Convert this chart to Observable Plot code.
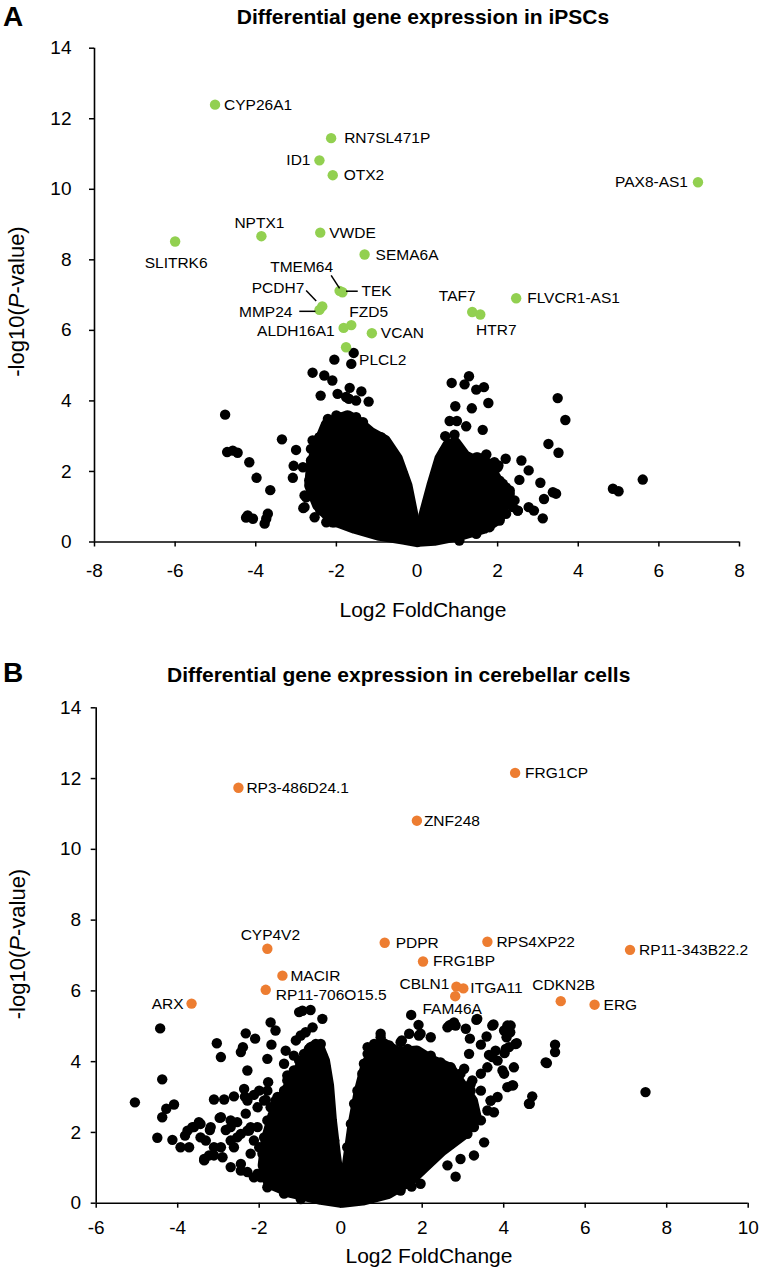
<!DOCTYPE html>
<html><head><meta charset="utf-8">
<script src="https://cdn.jsdelivr.net/npm/d3@7"></script>
<script src="https://cdn.jsdelivr.net/npm/@observablehq/plot@0.6"></script>
<style>
body{margin:0;background:#fff;}
#root{width:760px;}
svg{display:block;}
</style></head><body><div id="root"></div>
<script>
// ---------- Panel A data (iPSCs) ----------
const sigNamesA = ["CYP26A1","RN7SL471P","ID1","OTX2","NPTX1","VWDE","SLITRK6","SEMA6A","TMEM64","TEK","PCDH7","MMP24","FZD5","ALDH16A1","VCAN","PLCL2","TAF7","HTR7","FLVCR1-AS1","PAX8-AS1"];
const sigLfcA   = [-5.01,-2.13,-2.42,-2.09,-3.86,-2.40,-6.00,-1.30,-1.92,-1.85,-2.35,-2.42,-1.63,-1.82,-1.12,-1.76,1.37,1.57,2.46,6.97];
const sigLogpA  = [12.40,11.45,10.82,10.40,8.67,8.77,8.52,8.15,7.12,7.08,6.68,6.58,6.15,6.07,5.92,5.52,6.52,6.45,6.91,10.20];

const bgA = [
[-4.76,3.61],[-3.35,2.91],[-4.71,2.55],[-4.57,2.59],[-4.45,2.53],[-4.16,2.26],[-3.98,1.82],[-3.64,1.47],[-4.20,0.75],[-4.07,0.66],[-4.24,0.69],[-3.78,0.52],[-3.70,0.80],[-3.74,0.66],[-3.00,2.61],[-3.08,1.82],[-3.06,2.16],[-2.83,2.12],[-2.79,1.32],[-2.82,0.96],[-2.59,4.80],[-2.39,4.15],[-2.30,4.72],[-2.10,4.58],[-2.05,5.17],[-1.63,5.05],[-1.57,5.36],[-1.97,4.20],[-1.69,4.06],[-1.67,4.37],[-1.38,4.27],[-1.51,4.01],[-1.20,3.98],[-1.92,3.54],[-1.92,2.78],[-2.21,3.37],[-2.17,3.11],[-1.51,3.54],[-2.59,2.88],[-2.42,2.97],[-2.63,2.64],[-2.54,2.40],[-1.76,4.11],[-2.55,1.55],[-2.60,1.95],[-2.45,1.20],[-2.40,0.90],[-2.20,0.75],[-2.10,0.56],
[-2.67,1.75],[-2.75,1.27],[-2.79,0.99],[-2.54,0.70],[-2.25,0.56],[-2.05,0.56],[-2.63,2.31],[-2.54,2.69],[-2.42,2.97],[-2.25,3.35],[-2.21,3.49],[-2.00,3.59],[-1.92,3.30],[-1.84,3.07],[-1.76,2.97],[-1.51,3.25],[-1.34,3.40],[-1.30,3.11],[-1.18,2.97],[-1.05,2.88],[-0.89,2.97],[-0.81,2.78],[-0.64,2.55],[-0.48,2.31],[-0.35,1.93],[-0.27,1.55],
[0.86,4.51],[1.29,4.70],[1.18,4.47],[1.47,4.32],[1.66,4.39],[3.49,4.08],[3.68,3.46],[0.95,3.85],[1.36,3.79],[1.77,3.94],[0.81,3.43],[0.99,3.43],[1.22,3.28],[1.63,3.18],[3.26,2.78],[3.51,2.53],[0.70,3.00],[0.93,3.04],[0.95,2.76],[1.51,2.40],[1.72,2.48],[1.92,2.26],[2.20,2.36],[2.02,2.17],[2.59,2.31],[2.77,2.03],[2.54,1.76],[3.06,1.68],[3.45,1.37],[3.37,1.41],[3.15,1.22],[2.90,0.89],[2.77,0.99],[2.50,0.89],[3.12,0.67],[4.86,1.51],[5.00,1.44],[5.60,1.77],[1.96,1.84],[2.13,1.65],[2.30,1.46],[2.42,1.18],[2.13,1.37],
[0.68,2.59],[0.64,2.40],[0.56,2.22],[0.48,1.93],[0.39,1.55],[1.05,2.59],[1.26,2.40],[1.47,2.40],[1.67,2.40],[1.80,2.22],[2.00,2.12],[1.92,1.93],[2.05,1.74],[2.21,1.55],[2.30,1.37],[2.30,1.18],[2.38,0.99],[2.50,0.89],[2.21,0.80],[2.05,0.61],[1.80,0.42],[1.47,0.23],[1.05,0.04]
];
// outlines of the dense (overplotted) point clouds
const cloudALeft = [[0,0],[-0.31,0.07],[-0.93,0.18],[-1.55,0.38],[-2.10,0.61],[-2.47,1.03],[-2.67,1.60],[-2.62,2.23],[-2.47,2.74],[-2.27,3.30],[-2.07,3.44],[-1.72,3.59],[-1.48,3.44],[-1.13,3.10],[-0.78,2.88],[-0.48,2.37],[-0.24,1.60],[-0.09,0.75],[0,0.18]];
const cloudARight = [[0.04,0.01],[0.16,0.75],[0.36,1.60],[0.56,2.37],[0.76,2.76],[0.96,2.82],[1.20,2.45],[1.55,2.25],[1.85,1.97],[2.05,1.52],[2.17,1.03],[2.05,0.67],[1.67,0.38],[1.05,0.18],[0.43,0.04]];
// leader lines [x1,y1,x2,y2]
const leadersA = [[-2.13,7.56,-1.92,7.19],[-1.76,7.11,-1.47,7.11],[-2.75,7.13,-2.50,6.83],[-2.92,6.54,-2.52,6.54]];

// ---------- Panel B data (cerebellar cells) ----------
const sigNamesB = ["RP3-486D24.1","FRG1CP","ZNF248","CYP4V2","MACIR","RP11-706O15.5","ARX","PDPR","RPS4XP22","FRG1BP","RP11-343B22.2","CBLN1","ITGA11","FAM46A","CDKN2B","ERG"];
const sigLfcB   = [-2.51,4.28,1.87,-1.80,-1.43,-1.84,-3.66,1.08,3.60,2.02,7.10,2.84,3.01,2.81,5.40,6.23];
const sigLogpB  = [11.74,12.16,10.81,7.19,6.43,6.03,5.64,7.36,7.39,6.83,7.16,6.12,6.07,5.85,5.71,5.61];

const bgB = [
[-4.43,4.94],[-4.38,3.50],[-4.38,2.43],[-4.28,2.67],[-4.09,2.79],[-5.05,2.85],[-4.50,1.85],[-4.13,1.79],[-3.93,1.58],[-3.82,1.91],[-3.72,1.58],[-3.64,2.15],[-3.48,2.29],[-3.44,1.86],[-3.31,1.77],[-3.35,1.25],[-3.23,1.35],[-3.21,2.07],[-3.04,4.52],[-2.94,4.13],[-3.11,2.93],[-2.86,2.93],[-2.62,3.02],[-2.97,2.41],[-2.82,2.07],[-2.70,2.34],[-2.54,2.29],[-3.11,1.58],[-2.90,1.30],[-2.62,1.58],[-2.70,1.02],[-2.45,1.11],[-2.45,0.92],[-2.33,4.80],[-2.10,4.65],[-2.45,4.27],[-2.40,4.41],[-2.29,3.75],[-2.37,3.23],[-2.35,3.01],[-2.13,3.06],[-2.00,3.18],[-1.88,2.90],[-2.33,2.53],[-2.25,2.05],[-2.13,1.77],[-2.00,1.58],[-2.21,1.40],[-2.29,0.88],[-2.13,0.73],[-1.72,5.11],[-1.60,4.88],[-1.70,4.48],[-1.80,4.08],[-1.78,3.42],[-1.80,3.18],[-1.84,2.92],[-1.60,2.90],[-1.35,4.31],[-1.39,3.94],[-1.31,3.61],[-1.19,3.51],[-1.02,5.40],[-0.94,5.44],[-0.74,5.46],[-1.10,4.60],[-1.15,4.17],[-0.98,4.74],[-0.86,4.83],[-0.69,4.97],[-0.78,4.36],[-0.45,5.21],[-0.49,4.50],[-3.35,1.21],[-3.11,1.35],[-2.94,1.58],[-2.70,1.77],[-2.54,1.86],[-2.29,2.05],[-2.04,2.15],[-2.94,2.43],[-2.70,2.15],[-2.45,1.96],[-2.21,2.15],[-2.04,2.71],[-2.29,2.90],[-3.76,2.05],[-3.60,2.15],[-3.44,2.24],[-3.19,2.15],
[-2.04,0.83],[-1.92,1.40],[-1.88,1.86],[-1.80,2.34],[-1.72,2.71],[-1.55,3.00],[-1.39,3.18],[-1.31,3.47],[-1.15,3.75],[-1.02,4.03],[-0.90,4.22],[-0.74,4.41],[-0.61,4.50],[-0.45,4.17],[-0.37,3.84],[-0.33,3.28],[-0.25,2.53],[-0.16,1.77],[-0.04,1.02],[-1.96,0.73],[-1.80,0.45],[-1.39,0.27],[-0.98,0.12],
[1.73,5.32],[1.91,5.04],[2.21,4.69],[2.62,4.97],[2.72,5.05],[2.82,5.02],[3.35,5.21],[3.75,5.05],[4.09,5.02],[4.16,4.83],[4.07,4.69],[4.32,4.52],[4.13,4.41],[4.02,4.24],[3.17,4.65],[3.58,4.71],[3.44,4.48],[3.80,4.31],[3.64,4.19],[5.26,4.48],[5.26,4.27],[5.06,3.96],[7.48,3.14],[4.70,3.02],[4.64,2.81],[4.25,3.84],[4.23,3.33],[3.85,3.00],[3.68,2.90],[3.76,2.57],[3.52,1.72],[3.27,1.35],[3.07,2.15],[2.94,1.25],[2.86,1.86],[2.82,0.75],[2.62,1.07],[1.96,0.55],[1.74,0.47],[1.47,0.36],[4.09,3.28],[4.01,3.66],[3.15,4.22],[3.03,3.80],[3.23,3.47],[1.96,4.79],[1.47,4.55],[1.51,4.27],[0.98,4.79],[0.90,4.36],[0.94,4.03],[0.66,4.41],[1.50,4.60],[1.68,4.79],[1.92,4.74],[2.66,5.02],[2.78,5.11],[3.07,4.93],[3.33,5.18],[3.72,5.02],[4.17,5.02],[4.01,4.88],[4.29,4.50],[4.05,4.36],[3.72,4.13],[4.21,3.33],[3.03,2.90],[3.19,3.18],[3.44,3.66],[3.60,3.84],[3.85,4.03],[3.97,3.75],[4.62,2.81],[5.03,3.98],
[0.16,1.58],[0.25,2.24],[0.33,2.81],[0.41,3.18],[0.53,3.66],[0.57,3.94],[0.66,4.22],[0.82,4.50],[0.98,4.69],[1.19,4.46],[1.39,4.22],[1.64,4.36],[1.88,4.27],[2.21,4.17],[2.45,3.98],[2.70,3.84],[2.94,3.66],[3.19,3.37],[3.44,3.18],[3.68,2.90],[3.60,2.62],[3.44,2.34],[3.27,2.15],[3.11,1.96],[2.86,1.86],[2.70,1.68],[2.45,1.49],[2.29,1.30],[2.13,1.11],[1.96,0.92],[1.72,0.73],[1.47,0.55],[1.15,0.36],[0.82,0.22],[0.49,0.12]
];
const cloudBLeft = [[0,0.02],[-0.49,0.10],[-1.23,0.30],[-1.77,0.56],[-1.91,1.07],[-1.84,1.77],[-1.67,2.48],[-1.42,3.04],[-1.13,3.61],[-0.88,4.09],[-0.69,4.43],[-0.54,4.46],[-0.39,4.03],[-0.29,3.33],[-0.22,2.34],[-0.12,1.35],[-0.02,0.50]];
const cloudBRight = [[0.05,0.02],[0.12,0.78],[0.29,2.19],[0.44,3.12],[0.61,3.89],[0.79,4.31],[1.03,4.54],[1.42,4.26],[1.87,4.31],[2.26,4.03],[2.70,3.81],[2.99,3.32],[3.24,2.90],[3.34,2.39],[2.99,1.91],[2.50,1.49],[2.16,1.12],[1.72,0.64],[1.18,0.27],[0.54,0.08]];

// tick values
const ticksXA = [-8,-6,-4,-2,0,2,4,6,8];
const ticksXB = [-6,-4,-2,0,2,4,6,8,10];
const ticksY  = [0,2,4,6,8,10,12,14];

// ---------- styling ----------
const FONT = "Liberation Sans, Arial, Helvetica, sans-serif";
const GREEN = "#92d050", ORANGE = "#ed7d31";
// label placement: [dx, dy, anchor]
const labPosA = {"CYP26A1":[9,0,"start"],"RN7SL471P":[13,0,"start"],"ID1":[-9,0,"end"],"OTX2":[11,0,"start"],"NPTX1":[-2,-13,"middle"],"VWDE":[9,0,"start"],"SLITRK6":[1,22,"middle"],"SEMA6A":[11,0,"start"],"TMEM64":[-38,-24,"middle"],"TEK":[19,-1,"start"],"PCDH7":[-18,-18,"end"],"MMP24":[-27,2,"end"],"FZD5":[-2,-13,"start"],"ALDH16A1":[-9,3,"end"],"VCAN":[9,0,"start"],"PLCL2":[13,13,"start"],"TAF7":[-15,-16,"middle"],"HTR7":[16,16,"middle"],"FLVCR1-AS1":[11,0,"start"],"PAX8-AS1":[-10,0,"end"]};
const labPosB = {"RP3-486D24.1":[8,0,"start"],"FRG1CP":[10,0,"start"],"ZNF248":[7,0,"start"],"CYP4V2":[3,-14,"middle"],"MACIR":[8,0,"start"],"RP11-706O15.5":[10,5,"start"],"ARX":[-8,0,"end"],"PDPR":[11,0,"start"],"RPS4XP22":[9,0,"start"],"FRG1BP":[10,0,"start"],"RP11-343B22.2":[9,0,"start"],"CBLN1":[-7,-3,"end"],"ITGA11":[7,0,"start"],"FAM46A":[-3,13,"middle"],"CDKN2B":[3,-16,"middle"],"ERG":[9,0,"start"]};

function panel({names, lfc, logp, bg, clouds, color, labPos, leaders, xDomain, xTicks, width, height, margins, tickPadX, tickPadY}) {
  const sig = names.map((n,i)=>({name:n, x:lfc[i], y:logp[i]}));
  const marks = [];
  for (const c of clouds) {
    marks.push(Plot.line(c, {x:d=>d[0], y:d=>d[1], curve:"linear-closed", fill:"black", stroke:"black", strokeWidth:10.4, strokeLinejoin:"round"}));
  }
  marks.push(Plot.dot(bg, {x:d=>d[0], y:d=>d[1], r:5.2, fill:"black", stroke:null}));
  marks.push(Plot.dot(sig, {x:"x", y:"y", r:5.2, fill:color, stroke:null}));
  if (leaders) marks.push(Plot.link(leaders, {x1:d=>d[0], y1:d=>d[1], x2:d=>d[2], y2:d=>d[3], stroke:"black", strokeWidth:1.5}));
  for (const d of sig) {
    const [dx, dy, anchor] = labPos[d.name];
    marks.push(Plot.text([d], {x:"x", y:"y", text:"name", dx, dy, textAnchor:anchor, fontSize:15.5, fill:"black"}));
  }
  marks.push(Plot.ruleY([0], {stroke:"black", strokeWidth:1.6}));
  marks.push(Plot.ruleX([xDomain[0]], {stroke:"black", strokeWidth:1.6}));
  marks.push(Plot.axisX({ticks:xTicks, tickFormat:d=>String(d), tickSize:5, tickPadding:tickPadX, fontSize:19, label:null, stroke:"black", strokeWidth:1.5, fill:"black"}));
  marks.push(Plot.axisY({ticks:ticksY, tickFormat:d=>String(d), tickSize:5, tickPadding:tickPadY, fontSize:19, label:null, stroke:"black", strokeWidth:1.5, fill:"black"}));
  return Plot.plot({
    width, height, ...margins,
    x:{domain:xDomain}, y:{domain:[0,14]},
    style:{fontFamily:FONT, color:"black", background:"white", overflow:"visible"},
    marks
  });
}

function addText(svg, {x, y, size, weight="normal", anchor="middle", rotate=false}) {
  const t = d3.select(svg).append("text")
    .attr("font-family", FONT).attr("font-size", size).attr("font-weight", weight)
    .attr("text-anchor", anchor).attr("fill", "black");
  if (rotate) t.attr("transform", `translate(${x},${y}) rotate(-90)`);
  else t.attr("x", x).attr("y", y);
  return t;
}
function yLabel(svg, x, y) {
  const t = addText(svg, {x, y, size:22, rotate:true});
  t.append("tspan").text("-log10(");
  t.append("tspan").attr("font-style","italic").text("P");
  t.append("tspan").text("-value)");
}

const root = document.getElementById("root");

const svgA = panel({names:sigNamesA, lfc:sigLfcA, logp:sigLogpA, bg:bgA, clouds:[cloudALeft, cloudARight], color:GREEN, labPos:labPosA, leaders:leadersA,
  xDomain:[-8,8], xTicks:ticksXA, width:760, height:630,
  margins:{marginLeft:94, marginRight:21, marginTop:47.7, marginBottom:88.5}, tickPadX:16, tickPadY:18});
addText(svgA, {x:3, y:26, size:28, weight:"bold", anchor:"start"}).text("A");
addText(svgA, {x:423, y:23.5, size:21, weight:"bold"}).text("Differential gene expression in iPSCs");
addText(svgA, {x:423, y:616.7, size:21}).text("Log2 FoldChange");
yLabel(svgA, 24, 301.5);
root.appendChild(svgA);

const svgB = panel({names:sigNamesB, lfc:sigLfcB, logp:sigLogpB, bg:bgB, clouds:[cloudBLeft, cloudBRight], color:ORANGE, labPos:labPosB, leaders:null,
  xDomain:[-6,10], xTicks:ticksXB, width:760, height:641,
  margins:{marginLeft:95.7, marginRight:12.3, marginTop:77.3, marginBottom:68.3}, tickPadX:12, tickPadY:10});
addText(svgB, {x:3, y:52, size:28, weight:"bold", anchor:"start"}).text("B");
addText(svgB, {x:398.7, y:51.7, size:21, weight:"bold"}).text("Differential gene expression in cerebellar cells");
addText(svgB, {x:429, y:633, size:21}).text("Log2 FoldChange");
yLabel(svgB, 25, 314);
root.appendChild(svgB);
</script></body></html>
